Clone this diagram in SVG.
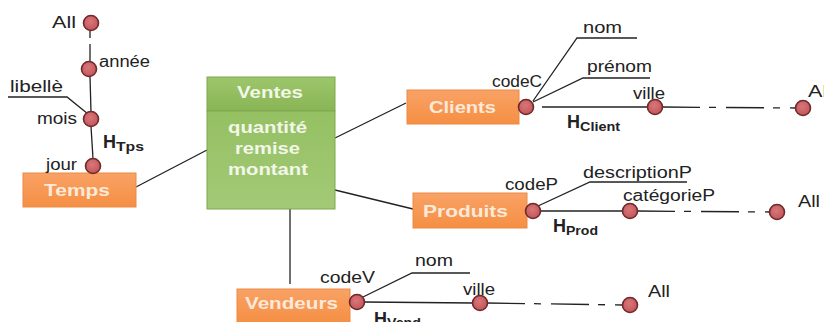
<svg xmlns="http://www.w3.org/2000/svg" width="824" height="322" viewBox="0 0 824 322">
  <defs>
    <linearGradient id="orangeFill" x1="0" y1="0" x2="0" y2="1">
      <stop offset="0" stop-color="#f9a266"/>
      <stop offset="1" stop-color="#f58f43"/>
    </linearGradient>
    <linearGradient id="greenHead" x1="0" y1="0" x2="0" y2="1">
      <stop offset="0" stop-color="#9cc66a"/>
      <stop offset="1" stop-color="#8ab556"/>
    </linearGradient>
    <linearGradient id="greenBody" x1="0" y1="0" x2="0" y2="1">
      <stop offset="0" stop-color="#95c062"/>
      <stop offset="1" stop-color="#a3c977"/>
    </linearGradient>
    <radialGradient id="levelFill" cx="0.45" cy="0.4" r="0.6">
      <stop offset="0" stop-color="#d8777a"/>
      <stop offset="1" stop-color="#c4555a"/>
    </radialGradient>
  </defs>
  <style>
    .dim rect { fill: url(#orangeFill); stroke: #eb8a45; stroke-width: 1; }
    .dim text { font-family: "Liberation Sans", Arial, sans-serif; font-weight: bold; font-size: 17px; fill: #fde9d9; }
    .fact text { font-family: "Liberation Sans", Arial, sans-serif; font-weight: bold; font-size: 16px; fill: #f2f7e8; }
    .lvl { fill: url(#levelFill); stroke: #6e2a2a; stroke-width: 1.6; }
    .lab { font-family: "Liberation Sans", Arial, sans-serif; font-size: 16px; fill: #222; }
    .h { font-family: "Liberation Sans", Arial, sans-serif; font-weight: bold; font-size: 18px; fill: #222; }
    .h tspan { font-size: 12px; }
    .ln { fill: none; stroke: #222; stroke-width: 1.3; }
    .dash { fill: none; stroke: #222; stroke-width: 1.3; stroke-dasharray: 38 9 7 10; }
  </style>

  <!-- links between the fact table, dimensions and hierarchy levels -->
  <g id="connectors">
    <line class="ln" x1="136" y1="187" x2="207" y2="150"/>
    <line class="ln" x1="335" y1="138" x2="406" y2="103"/>
    <line class="ln" x1="335" y1="190" x2="413" y2="209"/>
    <line class="ln" x1="290" y1="209" x2="290" y2="284"/>

    <!-- time hierarchy -->
    <line class="ln" x1="90" y1="30" x2="90" y2="38"/>
    <line class="ln" x1="90" y1="44" x2="90" y2="62"/>
    <line class="ln" x1="90" y1="76" x2="91" y2="112"/>
    <line class="ln" x1="91" y1="126" x2="93" y2="159"/>
    <polyline class="ln" points="8,97 67,97 88,114"/>

    <!-- clients -->
    <polyline class="ln" points="533,101 577,38 637,38"/>
    <polyline class="ln" points="533,102 583,78 650,78"/>
    <line class="ln" x1="542" y1="107" x2="648" y2="107"/>
    <line class="dash" x1="662" y1="107" x2="796" y2="108"/>

    <!-- produits -->
    <polyline class="ln" points="538,206 590,182 687,182"/>
    <line class="ln" x1="540" y1="211" x2="623" y2="211"/>
    <line class="dash" x1="637" y1="211" x2="770" y2="212"/>

    <!-- vendeurs -->
    <polyline class="ln" points="363,297 412,273 470,273"/>
    <line class="ln" x1="364" y1="302" x2="473" y2="303"/>
    <line class="dash" x1="487" y1="303" x2="623" y2="305"/>
  </g>

  <g id="ventes" class="fact">
    <rect x="207" y="77" width="128" height="34" fill="url(#greenHead)" stroke="#7fa74d" stroke-width="1"/>
    <rect x="207" y="111" width="128" height="98" fill="url(#greenBody)" stroke="#7fa74d" stroke-width="1"/>
    <text x="237" y="98" textLength="66" lengthAdjust="spacingAndGlyphs">Ventes</text>
    <text x="228" y="133" textLength="79" lengthAdjust="spacingAndGlyphs">quantité</text>
    <text x="235" y="154" textLength="65" lengthAdjust="spacingAndGlyphs">remise</text>
    <text x="228" y="175" textLength="80" lengthAdjust="spacingAndGlyphs">montant</text>
  </g>

  <g id="temps" class="dim">
    <rect x="23" y="173" width="113" height="34"/>
    <text x="44" y="196" textLength="66" lengthAdjust="spacingAndGlyphs">Temps</text>
  </g>
  <g id="clients" class="dim">
    <rect x="407" y="90" width="112" height="34"/>
    <text x="429" y="113" textLength="67" lengthAdjust="spacingAndGlyphs">Clients</text>
  </g>
  <g id="produits" class="dim">
    <rect x="413" y="193" width="114" height="35"/>
    <text x="423" y="217" textLength="85" lengthAdjust="spacingAndGlyphs">Produits</text>
  </g>
  <g id="vendeurs" class="dim">
    <rect x="237" y="289" width="113" height="34"/>
    <text x="245" y="309" textLength="93" lengthAdjust="spacingAndGlyphs">Vendeurs</text>
  </g>

  <!-- time hierarchy levels -->
  <g id="temps-all"><circle class="lvl" cx="91" cy="23" r="7.5"/><text class="lab" x="52" y="28" textLength="24" lengthAdjust="spacingAndGlyphs">All</text></g>
  <g id="temps-annee"><circle class="lvl" cx="89" cy="69" r="7.5"/><text class="lab" x="99" y="67" textLength="51" lengthAdjust="spacingAndGlyphs">année</text></g>
  <g id="temps-mois"><circle class="lvl" cx="91" cy="119" r="7.5"/><text class="lab" x="37" y="124" textLength="40" lengthAdjust="spacingAndGlyphs">mois</text></g>
  <g id="temps-jour"><circle class="lvl" cx="93" cy="166" r="7.5"/><text class="lab" x="46" y="170" textLength="31" lengthAdjust="spacingAndGlyphs">jour</text></g>
  <text class="lab" x="10" y="92" textLength="53" lengthAdjust="spacingAndGlyphs">libellè</text>
  <text class="h" x="103" y="148">H<tspan dy="3" textLength="28" lengthAdjust="spacingAndGlyphs">Tps</tspan></text>

  <!-- client hierarchy levels -->
  <g id="clients-codeC"><circle class="lvl" cx="526" cy="107" r="7.5"/><text class="lab" x="492" y="87" textLength="50" lengthAdjust="spacingAndGlyphs">codeC</text></g>
  <g id="clients-ville"><circle class="lvl" cx="655" cy="107" r="7.5"/><text class="lab" x="633" y="99" textLength="32" lengthAdjust="spacingAndGlyphs">ville</text></g>
  <g id="clients-all"><circle class="lvl" cx="803" cy="108" r="7.5"/><text class="lab" x="808" y="97" textLength="24" lengthAdjust="spacingAndGlyphs">All</text></g>
  <text class="lab" x="583" y="33" textLength="39" lengthAdjust="spacingAndGlyphs">nom</text>
  <text class="lab" x="587" y="72" textLength="65" lengthAdjust="spacingAndGlyphs">prénom</text>
  <text class="h" x="567" y="128">H<tspan dy="3" textLength="40" lengthAdjust="spacingAndGlyphs">Client</tspan></text>

  <!-- product hierarchy levels -->
  <g id="produits-codeP"><circle class="lvl" cx="533" cy="211" r="7.5"/><text class="lab" x="505" y="190" textLength="53" lengthAdjust="spacingAndGlyphs">codeP</text></g>
  <g id="produits-categorieP"><circle class="lvl" cx="630" cy="211" r="7.5"/><text class="lab" x="623" y="201" textLength="92" lengthAdjust="spacingAndGlyphs">catégorieP</text></g>
  <g id="produits-all"><circle class="lvl" cx="777" cy="212" r="7.5"/><text class="lab" x="798" y="207" textLength="22" lengthAdjust="spacingAndGlyphs">All</text></g>
  <text class="lab" x="583" y="178" textLength="109" lengthAdjust="spacingAndGlyphs">descriptionP</text>
  <text class="h" x="553" y="232">H<tspan dy="3" textLength="32" lengthAdjust="spacingAndGlyphs">Prod</tspan></text>

  <!-- seller hierarchy levels -->
  <g id="vendeurs-codeV"><circle class="lvl" cx="357" cy="302" r="7.5"/><text class="lab" x="320" y="283" textLength="55" lengthAdjust="spacingAndGlyphs">codeV</text></g>
  <g id="vendeurs-ville"><circle class="lvl" cx="480" cy="303" r="7.5"/><text class="lab" x="463" y="295" textLength="32" lengthAdjust="spacingAndGlyphs">ville</text></g>
  <g id="vendeurs-all"><circle class="lvl" cx="630" cy="305" r="7.5"/><text class="lab" x="648" y="297" textLength="22" lengthAdjust="spacingAndGlyphs">All</text></g>
  <text class="lab" x="415" y="266" textLength="38" lengthAdjust="spacingAndGlyphs">nom</text>
  <text class="h" x="374" y="325">H<tspan dy="2" textLength="34" lengthAdjust="spacingAndGlyphs">Vend</tspan></text>
</svg>
